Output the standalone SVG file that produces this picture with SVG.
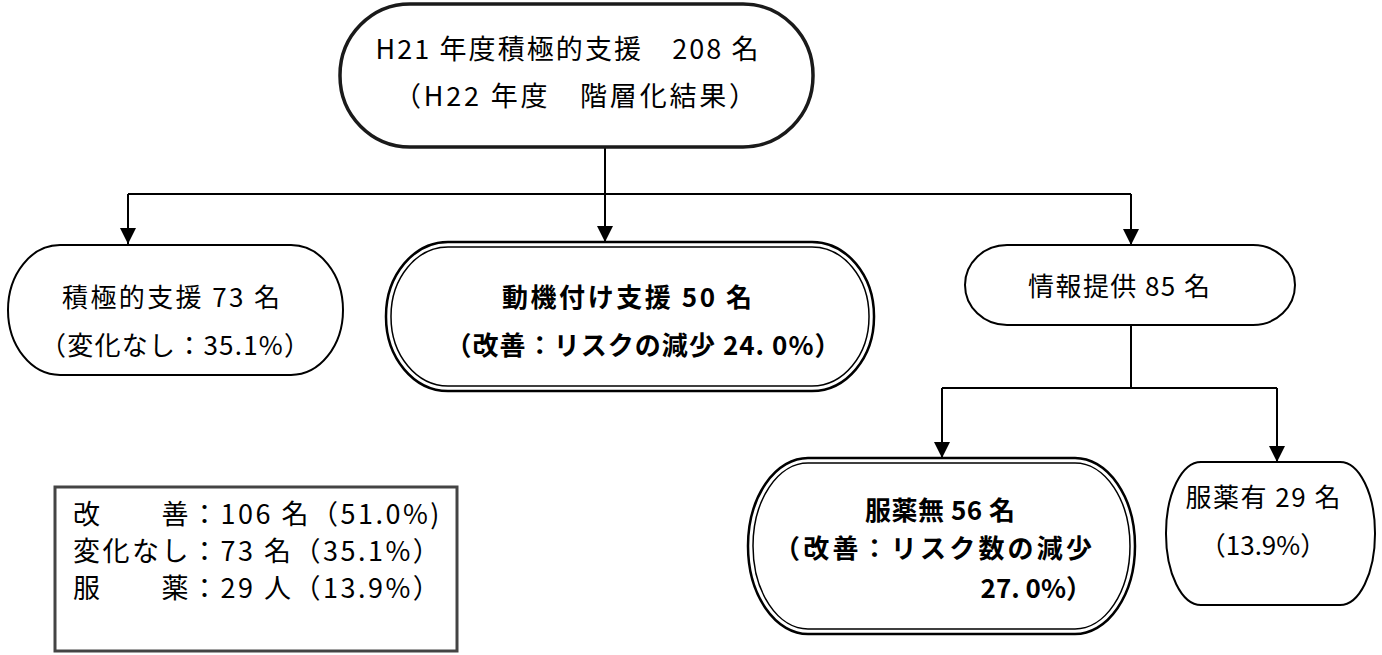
<svg xmlns="http://www.w3.org/2000/svg" width="1382" height="655" viewBox="0 0 1382 655">
<defs>
<marker id="arr" markerUnits="userSpaceOnUse" markerWidth="16" markerHeight="16" refX="16" refY="8" orient="auto">
<path d="M0,0 L16,8 L0,16 Z" fill="#000"/>
</marker>
</defs>
<style>
text{font-family:"Noto Sans CJK JP","Noto Sans",sans-serif;fill:#000}
.n{fill:#fff;stroke:#000;stroke-width:2}
.top{fill:#fff;stroke:#1a1a1a;stroke-width:3.5}
.dbo{fill:#fff;stroke:#000;stroke-width:2.5}
.dbi{fill:none;stroke:#000;stroke-width:1.5}
.c{fill:none;stroke:#000;stroke-width:2}
.t{font-size:26px}
.tb{font-size:26px;font-weight:bold}
.tt{font-size:27px}
.lg{font-size:27px;letter-spacing:2.5px}
.leg{fill:#fff;stroke:#444;stroke-width:3}
</style>
<rect width="1382" height="655" fill="#fff"/>
<g id="connectors">
<path class="c" d="M605,147 V194"/>
<path class="c" d="M128,194 H1131"/>
<path class="c" d="M128,194 V244" marker-end="url(#arr)"/>
<path class="c" d="M605,194 V242" marker-end="url(#arr)"/>
<path class="c" d="M1131,194 V245" marker-end="url(#arr)"/>
<path class="c" d="M1131,325 V388"/>
<path class="c" d="M942,388 H1277"/>
<path class="c" d="M942,388 V458" marker-end="url(#arr)"/>
<path class="c" d="M1277,388 V462" marker-end="url(#arr)"/>
</g>
<g id="node-top">
<rect class="top" x="340" y="4" width="473" height="143" rx="70" ry="71"/>
<text class="tt" x="567" y="59" text-anchor="middle" textLength="383">H21 年度積極的支援　208 名</text>
<text class="tt" x="575" y="106" text-anchor="middle" textLength="362">（H22 年度　階層化結果）</text>
</g>
<g id="node-sekkyoku">
<rect class="n" x="8" y="245" width="335" height="130" rx="52" ry="65"/>
<text class="t" x="171" y="307" text-anchor="middle" textLength="218">積極的支援 73 名</text>
<text class="t" x="175" y="355" text-anchor="middle" textLength="270">（変化なし：35.1%）</text>
</g>
<g id="node-douki">
<rect class="dbo" x="386" y="242" width="488" height="149" rx="62" ry="74"/>
<rect class="dbi" x="391" y="247" width="478" height="139" rx="57" ry="69"/>
<text class="tb" x="627" y="307" text-anchor="middle" textLength="250">動機付け支援 50 名</text>
<text class="tb" x="643" y="355" text-anchor="middle" textLength="395">（改善：リスクの減少 24. 0%）</text>
</g>
<g id="node-jouhou">
<rect class="n" x="965" y="245" width="330" height="80" rx="42" ry="40"/>
<text class="t" x="1119" y="296" text-anchor="middle" textLength="182">情報提供 85 名</text>
</g>
<g id="node-fukuyakunashi">
<rect class="dbo" x="748" y="458" width="387" height="176" rx="60" ry="88"/>
<rect class="dbi" x="753" y="463" width="377" height="166" rx="55" ry="83"/>
<text class="tb" x="940" y="520" text-anchor="middle" textLength="150">服薬無 56 名</text>
<text class="tb" x="774" y="558" textLength="318">（改善：リスク数の減少</text>
<text class="tb" x="1092" y="598" text-anchor="end">27. 0%）</text>
</g>
<g id="node-fukuyakuari">
<rect class="n" x="1166" y="462" width="209" height="143" rx="35" ry="71"/>
<text class="t" x="1263" y="507" text-anchor="middle" textLength="155">服薬有 29 名</text>
<text class="t" x="1263" y="555" text-anchor="middle">（13.9%）</text>
</g>
<g id="legend">
<rect class="leg" x="55" y="487" width="402" height="164"/>
<text class="lg" x="73" y="524">改　　善：106 名（51.0%)</text>
<text class="lg" x="73" y="561">変化なし：73 名（35.1%）</text>
<text class="lg" x="73" y="598">服　　薬：29 人（13.9%）</text>
</g>
</svg>
